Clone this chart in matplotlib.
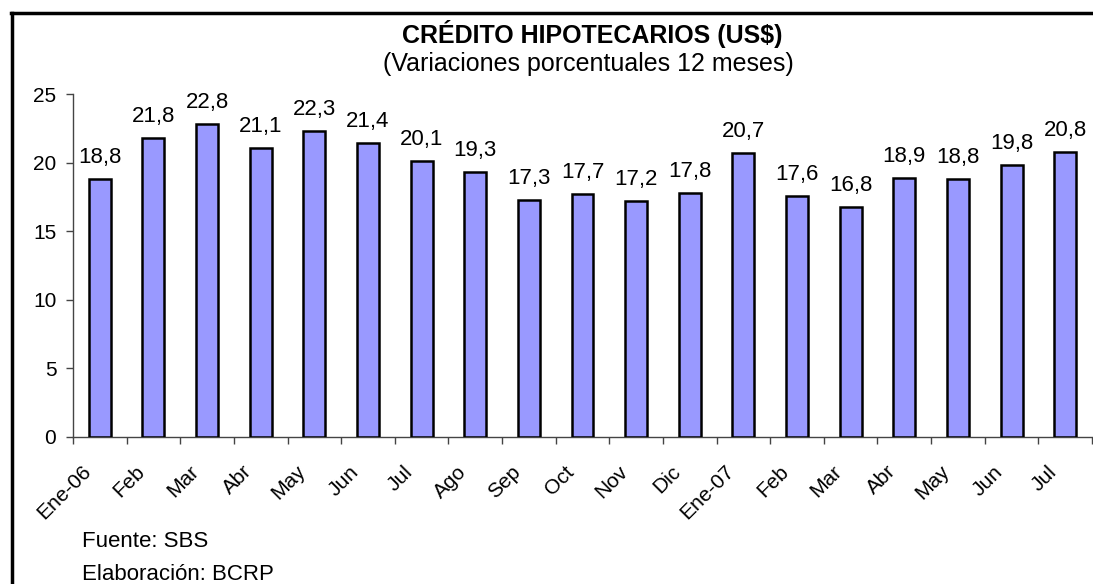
import matplotlib
matplotlib.use("Agg")
import matplotlib.pyplot as plt
import matplotlib.transforms as mtransforms
import numpy as np
from matplotlib.lines import Line2D

categories = ["Ene-06", "Feb", "Mar", "Abr", "May", "Jun", "Jul", "Ago", "Sep", "Oct",
              "Nov", "Dic", "Ene-07", "Feb", "Mar", "Abr", "May", "Jun", "Jul"]
values = [18.8, 21.8, 22.8, 21.1, 22.3, 21.4, 20.1, 19.3, 17.3, 17.7,
          17.2, 17.8, 20.7, 17.6, 16.8, 18.9, 18.8, 19.8, 20.8]
yticks = [0, 5, 10, 15, 20, 25]

plt.rcParams['font.family'] = ['Liberation Sans', 'DejaVu Sans']

fig = plt.figure(figsize=(10.93, 5.84), dpi=100)
ax = fig.add_axes([73/1093, 1-437/584, (1092-73)/1093, (437-94)/584])

x = np.arange(len(values))
ax.bar(x, values, width=0.41, color='#9999FF', edgecolor='black', linewidth=1.8, zorder=3)

for xi, v in zip(x, values):
    ax.annotate(f"{v:.1f}".replace('.', ','), (xi, v), xytext=(0, 11.5), textcoords='offset points',
                ha='center', va='baseline', fontsize=16)

ax.set_xlim(-0.5, len(values) - 0.5)
ax.set_ylim(0, 25)
ax.set_yticks(yticks)
ax.set_yticklabels([str(t) for t in yticks], fontsize=15)
ax.set_xticks(x)
ax.set_xticklabels(categories, rotation=45, ha='right', fontsize=15)
ax.tick_params(axis='x', which='major', length=0, pad=18)
ax.set_xticks(np.arange(len(values) + 1) - 0.5, minor=True)
ax.tick_params(axis='x', which='minor', length=5, color='#444444', width=1)
ax.tick_params(axis='y', length=5, color='#444444', width=1, pad=7)

shift = mtransforms.ScaledTranslation(-5/100, 0, fig.dpi_scale_trans)
for lbl in ax.get_xticklabels():
    lbl.set_transform(lbl.get_transform() + shift)

for s in ['top', 'right']:
    ax.spines[s].set_visible(False)
for s in ['left', 'bottom']:
    ax.spines[s].set_color('#444444')
    ax.spines[s].set_linewidth(1)

fig.text(592/1093, 1-43/584, "CRÉDITO HIPOTECARIOS (US$)", ha='center', va='baseline',
         fontsize=18, fontweight='bold')
fig.text(588/1093, 1-71/584, "(Variaciones porcentuales 12 meses)", ha='center', va='baseline',
         fontsize=18)
fig.text(82/1093, 1-547/584, "Fuente: SBS", ha='left', va='baseline', fontsize=16)
fig.text(82/1093, 1-580/584, "Elaboración: BCRP", ha='left', va='baseline', fontsize=16)

fig.add_artist(Line2D([11.5/1093, 11.5/1093], [0, 1-13/584], transform=fig.transFigure,
                      color='black', linewidth=2.5))
fig.add_artist(Line2D([10.5/1093, 1], [1-13/584, 1-13/584], transform=fig.transFigure,
                      color='black', linewidth=2.5))

fig.savefig("out.png", dpi=100)
